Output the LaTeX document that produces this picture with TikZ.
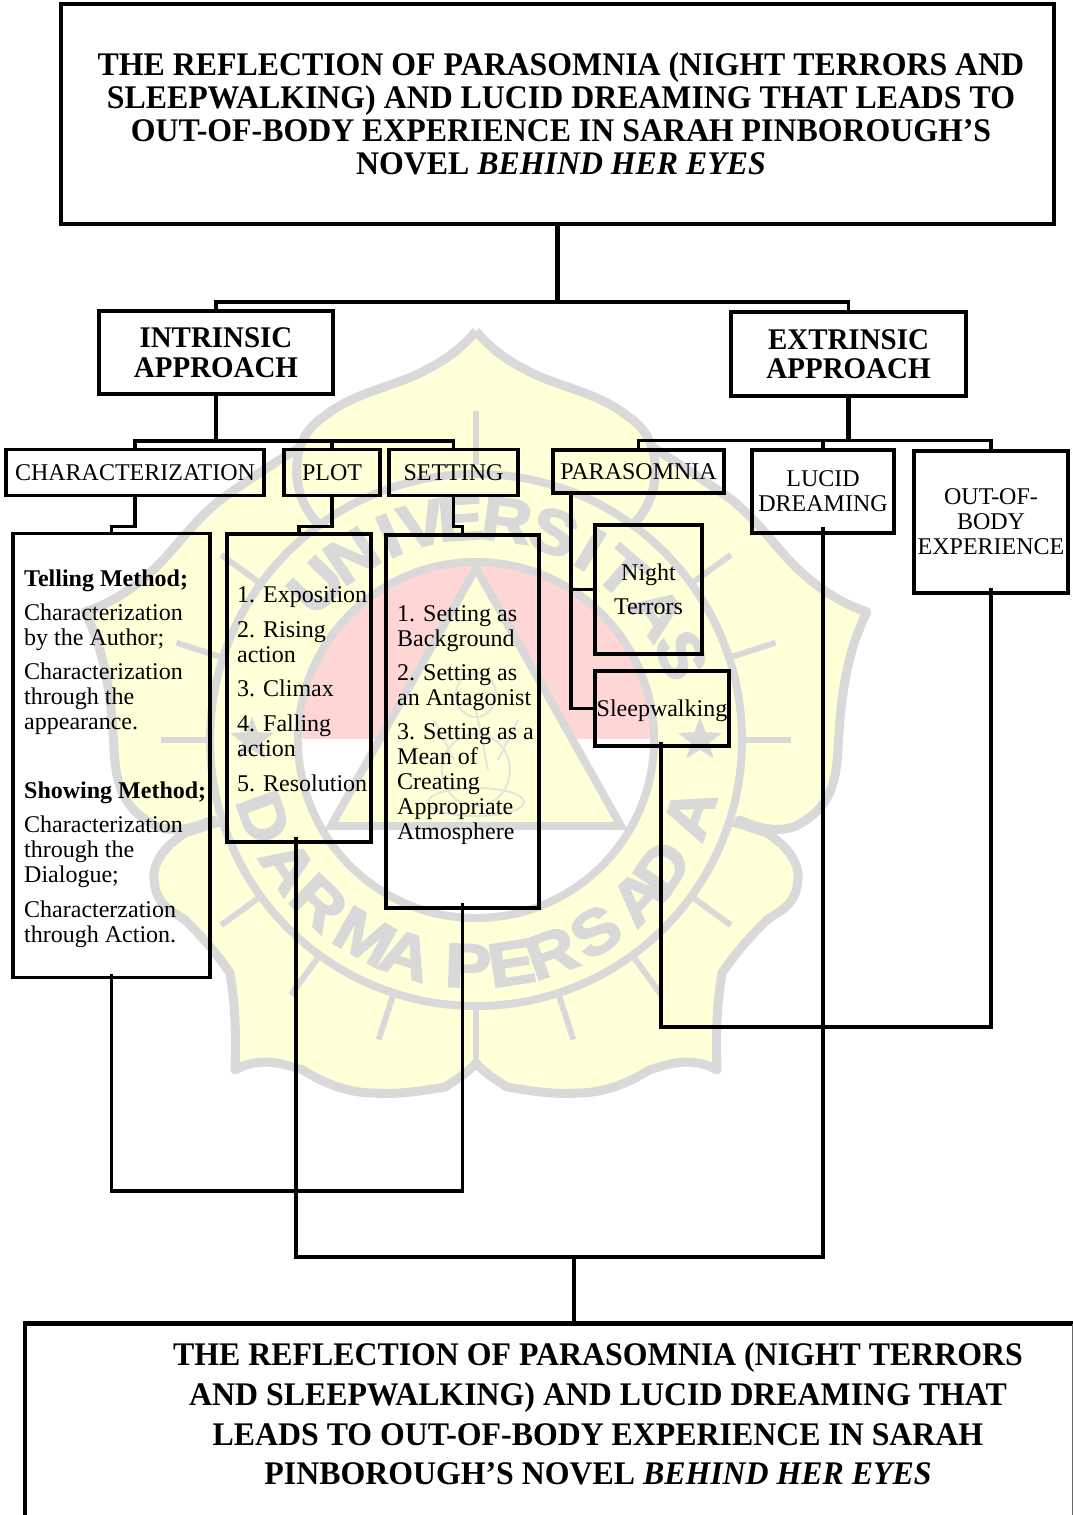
\documentclass[tikz,border=0pt]{standalone}
\usepackage{fontspec}
\setmainfont{Liberation Serif}
\newfontfamily\headfont{Liberation Serif}[FakeStretch=0.965]
\newfontfamily\wmfont{Liberation Sans}[FakeBold=3,FakeStretch=1.12]
\usetikzlibrary{shapes.geometric}
\definecolor{wmgray}{HTML}{D9D9D9}
\definecolor{wmyellow}{HTML}{FFFFD8}
\definecolor{wmpink}{HTML}{FFD6D6}
\definecolor{wmfaint}{HTML}{E4E4DC}
\tikzset{
  plainbox/.style={draw, line width=3.5pt, inner sep=0pt, font=\fontsize{24}{25}\selectfont, align=center},
  headbox/.style={draw, line width=4pt, inner sep=0pt, font=\headfont\fontsize{30}{29.5}\selectfont\bfseries, align=center},
  listtext/.style={inner sep=0pt, anchor=north west, align=left, font=\fontsize{24}{25}\selectfont},
  conn/.style={line width=3.5pt},
  wmline/.style={draw=wmgray, line width=9pt},
  wmray/.style={draw=wmgray, line width=6pt},
  wmthin/.style={draw=wmfaint, line width=2pt},
  wmletter/.style={text=wmgray, inner sep=0pt, font=\wmfont\fontsize{62}{62}\selectfont\bfseries}
}
\newcommand{\petalpath}{(0,409) .. controls (20,385) and (40,375) .. (60,365) .. controls (90,352) and (125,345) .. (150,325) .. controls (165,315) and (172,305) .. (176,293)
  .. controls (205,275) and (235,255) .. (256,240) .. controls (280,220) and (295,200) .. (305,189) .. controls (325,165) and (355,140) .. (391,128)
  .. controls (372,90) and (365,50) .. (362,-9) .. controls (360,-50) and (350,-70) .. (320,-86) .. controls (305,-92) and (285,-90) .. (263,-80)
  .. controls (295,-90) and (325,-115) .. (322,-140) .. controls (320,-165) and (305,-170) .. (291,-180) .. controls (270,-200) and (255,-220) .. (246,-233)
  .. controls (240,-270) and (240,-300) .. (241,-330) .. controls (215,-315) and (190,-325) .. (173,-330) .. controls (150,-345) and (125,-353) .. (102,-353)
  .. controls (75,-355) and (50,-350) .. (31,-347) .. controls (20,-340) and (5,-330) .. (0,-323)}
\begin{document}
\begin{tikzpicture}[x=1pt,y=-1pt]
\useasboundingbox (0,0) rectangle (1073,1515);

% logo behind the chart
\begin{scope}[shift={(476,740)},y=1pt]
  \foreach \sx in {1,-1}{
    \begin{scope}[xscale=\sx]
      \fill[wmyellow] \petalpath -- cycle;
    \end{scope}
  }
  \foreach \sx in {1,-1}{
    \begin{scope}[xscale=\sx]
      \draw[wmline, line join=round] \petalpath;
      \draw[wmline] (176,293) .. controls (185,260) and (175,235) .. (158,216);
    \end{scope}
  }
  \draw[wmray] (0,-323) -- (0,-270);
  \draw[wmray] (0,275) -- (0,329);
  \foreach \a in {0,18,36,144,162,180,198,216,234,252,288,306,324,342}{
    \draw[wmray] (\a:268) -- (\a:315);
  }
  \fill[white] (0,0) circle [radius=178];
  \begin{scope}
    \clip (-180,2) rectangle (180,180);
    \fill[wmpink] (0,0) circle [radius=178];
  \end{scope}
  \fill[wmyellow] (0,172) -- (145,-86) -- (-145,-86) -- cycle;
  \draw[wmthin] (0,-30) ellipse [x radius=34, y radius=36];
  \draw[wmthin] (0,-62) ellipse [x radius=48, y radius=14];
  \draw[wmthin] (0,45) ellipse [x radius=20, y radius=22];
  \draw[wmthin] (-42,20) -- (-22,-20) (42,20) -- (22,-20);
  \draw[wmthin] (0,30) -- (12,-30);
  \draw[wmline, line width=8pt, line join=miter] (0,172) -- (145,-86) -- (-145,-86) -- cycle;
  \draw[wmline, line width=8pt] (0,0) circle [radius=178];
  \draw[wmline, line width=8pt] (0,0) circle [radius=266];
  \foreach \a in {0,180}{
    \node[star, star points=5, star point ratio=2.4, fill=wmgray, minimum size=46pt, inner sep=0pt] (star\a) at (\a:224) {};
  }
  \foreach \ch/\ang [count=\i] in {U/136,N/124,I/113,V/104,E/94,R/82,S/69.5,I/59,T/49,A/35,S/22.5}{
    \node[wmletter, rotate=\ang-90] (upper\i) at (\ang:222) {\ch};
  }
  \foreach \ch/\ang [count=\i] in {D/200,A/214,R/226,M/240.5,A/252,P/268,E/279,R/289.5,S/302,A/316,D/325.5,A/341}{
    \node[wmletter, rotate=\ang+90] (lower\i) at (\ang:226) {\ch};
  }
\end{scope}

% top of the chart
\node[draw, line width=4.5pt, inner sep=0pt, minimum width=993pt, minimum height=220pt] (title) at (557.5,114) {};
\node[inner sep=0pt, align=center, font=\headfont\fontsize{33}{33}\selectfont\bfseries] (titletext) at (561,114)
  {THE REFLECTION OF PARASOMNIA (NIGHT TERRORS AND\\
   SLEEPWALKING) AND LUCID DREAMING THAT LEADS TO\\
   OUT-OF-BODY EXPERIENCE IN SARAH PINBOROUGH’S\\
   NOVEL \textit{BEHIND HER EYES}};

\node[headbox, minimum width=234pt, minimum height=83pt] (intrinsic) at (216,352.5) {INTRINSIC\\APPROACH};
\node[headbox, minimum width=235pt, minimum height=84pt] (extrinsic) at (848.5,354) {EXTRINSIC\\APPROACH};

\node[plainbox, minimum width=258pt, minimum height=46pt] (character) at (135,472.5) {CHARACTERIZATION};
\node[plainbox, minimum width=96pt, minimum height=46pt] (plot) at (332,472.5) {PLOT};
\node[plainbox, minimum width=129pt, minimum height=46pt] (setting) at (453.5,472.5) {SETTING};
\node[plainbox, minimum width=171pt, minimum height=43pt] (parasomnia) at (638.5,471.5) {PARASOMNIA};
\node[plainbox, minimum width=142pt, minimum height=83pt] (lucid) at (823,491.5) {LUCID\\DREAMING};
\node[plainbox, minimum width=154pt, minimum height=142pt] (oob) at (991,522) {OUT-OF-\\BODY\\EXPERIENCE};

\node[plainbox, minimum width=197pt, minimum height=444pt] (chardetail) at (111.5,755.5) {};
\node[plainbox, minimum width=144pt, minimum height=308pt] (plotdetail) at (299,688) {};
\node[plainbox, minimum width=153pt, minimum height=373pt] (settingdetail) at (462.5,721.5) {};
\node[plainbox, minimum width=107pt, minimum height=129pt, font=\fontsize{24}{34.5}\selectfont] (night) at (648.5,589.5) {Night\\Terrors};
\node[plainbox, minimum width=134pt, minimum height=75pt] (sleep) at (662,708.5) {};
\node[inner sep=0pt, font=\fontsize{24}{25}\selectfont] (sleeptext) at (662,711) {Sleepwalking};

\node[listtext] (chartext) at (24,570)
  {\textbf{Telling Method;}\\[9pt]
   Characterization\\by the Author;\\[9pt]
   Characterization\\through the\\appearance.\\[44pt]
   \textbf{Showing Method;}\\[9pt]
   Characterization\\through the\\Dialogue;\\[10pt]
   Characterzation\\through Action.};
\node[listtext] (plottext) at (237,586)
  {1. Exposition\\[10pt]
   2. Rising\\action\\[9pt]
   3. Climax\\[10pt]
   4. Falling\\action\\[10pt]
   5. Resolution};
\node[listtext] (settingtext) at (397,605)
  {1. Setting as\\Background\\[9pt]
   2. Setting as\\an Antagonist\\[9pt]
   3. Setting as a\\Mean of\\Creating\\Appropriate\\Atmosphere};

% connectors
\coordinate (topbus) at (557.5,302);
\coordinate (intbus) at (216,441);
\coordinate (extbus) at (848.5,441);
\coordinate (parastem) at (571,493);
\coordinate (lowa) at (111.5,1191);
\coordinate (lowb) at (574,1257);
\coordinate (lowc) at (661,1027);
\coordinate (finaltop) at (574,1323);

\draw[conn, line width=4.5pt] (title.south) -- (topbus);
\draw[conn] (intrinsic.north) -- ++(0,-7) -| (extrinsic.north);
\draw[conn, line width=4.5pt] (intrinsic.south) -- (intbus);
\draw[conn, line width=4.5pt] (extrinsic.south) -- (extbus);
\draw[conn] (character.north) -- ++(0,-7) -| (setting.north);
\draw[conn] (plot.north) -- ++(0,-7);
\draw[conn] (parasomnia.north) -- ++(0,-8) -| (oob.north);
\draw[conn] (lucid.north) -- ++(0,-8);
\draw[conn] (character.south) -- ++(0,29) -| (chardetail.north);
\draw[conn] (plot.south) -- ++(0,29) -| (plotdetail.north);
\draw[conn] (setting.south) -- ++(0,29) -| (settingdetail.north);
\draw[conn] (parastem) |- (sleep.west);
\draw[conn] (parastem |- night.west) -- (night.west);

\draw[conn] ([yshift=5pt]chardetail.south) -- (lowa) -| ([yshift=7pt]settingdetail.south);
\draw[conn] ([xshift=-3pt,yshift=7pt]plotdetail.south) |- (lowb) -| ([yshift=8pt]lucid.south);
\draw[conn] ([yshift=6pt,xshift=-1pt]sleep.south) -- (lowc) -| ([yshift=7pt]oob.south);
\draw[conn] (lowb) -- (finaltop);

% report box runs off the page
\draw[line width=4.5pt] (1073,1323.5) -- (25,1323.5) -- (25,1515);
\draw[line width=1pt, black!60] (1072.5,1323.5) -- (1072.5,1515);
\node[inner sep=0pt, align=center, font=\headfont\fontsize{33}{39.6}\selectfont\bfseries] (finaltext) at (598,1414)
  {THE REFLECTION OF PARASOMNIA (NIGHT TERRORS\\
   AND SLEEPWALKING) AND LUCID DREAMING THAT\\
   LEADS TO OUT-OF-BODY EXPERIENCE IN SARAH\\
   PINBOROUGH’S NOVEL \textit{BEHIND HER EYES}};
\end{tikzpicture}
\end{document}
